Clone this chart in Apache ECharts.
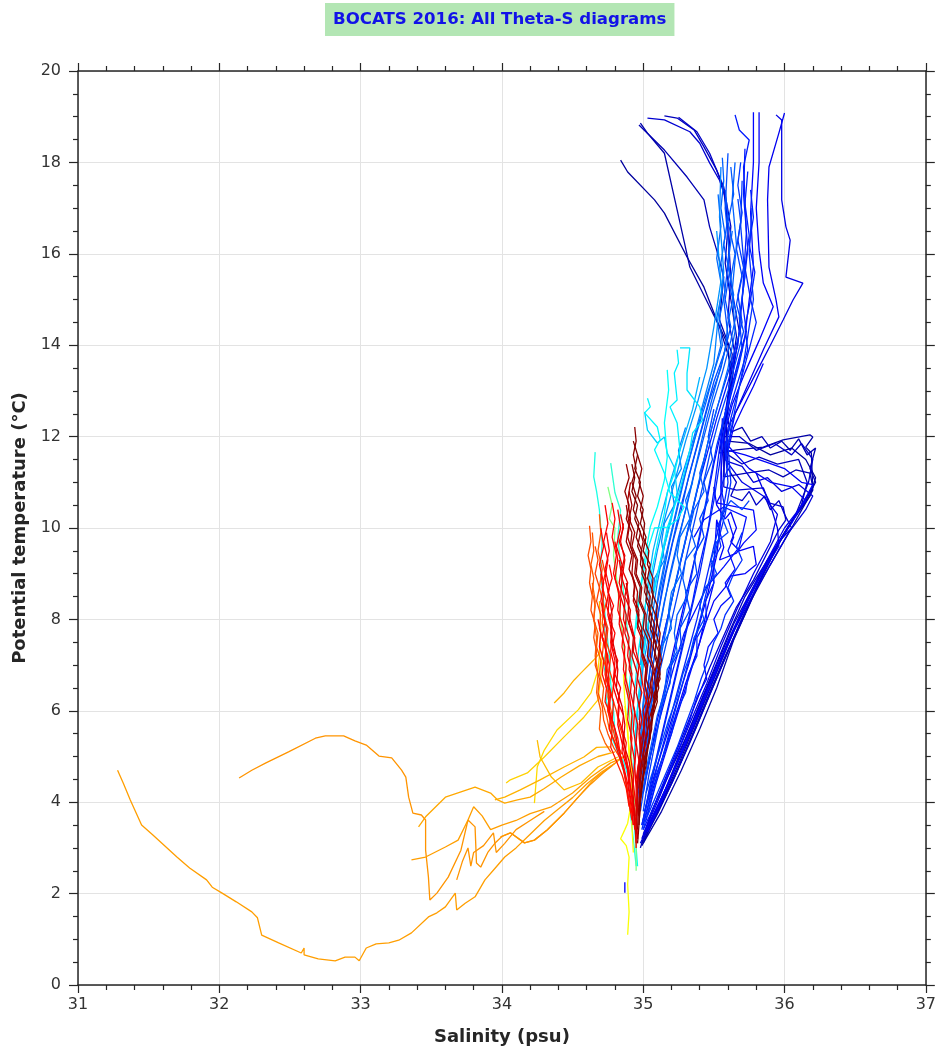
<!DOCTYPE html>
<html>
<head>
<meta charset="utf-8">
<script src="https://cdn.jsdelivr.net/npm/echarts@6/dist/echarts.min.js"></script>
<style>html,body{margin:0;padding:0;background:#fff;overflow:hidden}#c{width:939px;height:1051px}</style>
</head>
<body>
<div id="c"></div>
<script>
// ---- axis ticks ----
const salinityTicks = [31, 32, 33, 34, 35, 36, 37];
const temperatureTicks = [0, 2, 4, 6, 8, 10, 12, 14, 16, 18, 20];

// ---- profiles: [salinity, potential temperature] ----
const pN4 = [[34.84,18.05],[34.89,17.79],[35.08,17.18],[35.15,16.89],[35.31,15.93],[35.43,15.27],[35.52,14.55],[35.6,14.0],[35.62,13.2],[35.58,12.4],[35.6,11.9],[35.75,11.85],[35.9,11.6],[36.05,11.75],[36.15,11.5],[36.22,11.1],[36.18,10.7],[36.02,10.0],[35.87,9.2],[35.74,8.4],[35.62,7.6],[35.5,6.7],[35.38,5.8],[35.26,4.9],[35.13,4.0],[35.0,3.1]];
const pN1 = [[34.98,18.86],[35.03,18.64],[35.15,18.2],[35.24,16.96],[35.33,15.71],[35.47,14.84],[35.54,14.4],[35.62,13.6],[35.6,12.8],[35.57,12.2],[35.54,11.64],[35.66,11.71],[35.85,11.77],[35.99,11.93],[36.18,12.04],[36.2,11.99],[36.15,11.77],[36.19,11.64],[36.2,10.83],[36.05,10.0],[35.9,9.2],[35.76,8.4],[35.64,7.55],[35.52,6.5],[35.4,5.6],[35.27,4.7],[35.13,3.8],[34.99,3.05]];
const pN2 = [[34.97,18.82],[35.15,18.27],[35.31,17.68],[35.43,17.18],[35.47,16.59],[35.52,16.08],[35.57,15.49],[35.54,14.55],[35.63,13.8],[35.6,12.8],[35.57,11.9],[35.57,11.12],[35.73,11.2],[35.89,11.27],[35.99,11.12],[36.08,11.27],[36.18,11.2],[36.2,10.9],[36.1,10.4],[35.95,9.6],[35.82,8.8],[35.7,8.0],[35.58,7.2],[35.47,6.4],[35.35,5.5],[35.23,4.6],[35.11,3.8],[34.99,3.1]];
const pN7 = [[35.58,12.6],[35.62,12.1],[35.7,12.2],[35.76,11.9],[35.84,12.0],[35.9,11.75],[35.98,11.9],[36.04,11.7],[36.1,11.95],[36.16,11.6],[36.22,11.75],[36.18,11.3],[36.22,11.0],[36.15,10.6],[36.0,9.9],[35.88,9.3],[35.76,8.6],[35.64,7.9],[35.52,7.0],[35.41,6.2],[35.3,5.4],[35.18,4.6],[35.06,3.8],[34.98,3.0]];
const pN5 = [[35.15,19.02],[35.24,18.97],[35.36,18.71],[35.43,18.34],[35.52,17.83],[35.57,17.4],[35.6,16.6],[35.58,15.8],[35.62,15.0],[35.66,14.2],[35.62,13.3],[35.58,12.5],[35.6,11.6],[35.7,11.4],[35.82,11.55],[35.95,11.4],[36.1,11.5],[36.16,11.0],[36.12,10.5],[35.98,9.8],[35.85,9.0],[35.72,8.1],[35.6,7.3],[35.49,6.5],[35.37,5.6],[35.24,4.7],[35.12,3.9],[35.0,3.2]];
const pN6 = [[35.25,18.99],[35.38,18.67],[35.47,18.2],[35.57,17.46],[35.62,16.6],[35.6,15.8],[35.64,15.0],[35.68,14.3],[35.64,13.5],[35.6,12.6],[35.57,12.0],[35.68,12.0],[35.8,11.7],[35.93,11.85],[36.05,11.6],[36.12,11.85],[36.2,11.5],[36.17,11.0],[36.08,10.3],[35.93,9.5],[35.8,8.7],[35.68,7.9],[35.56,7.0],[35.45,6.2],[35.33,5.3],[35.2,4.4],[35.07,3.6]];
const pN8 = [[35.6,11.3],[35.66,11.0],[35.62,10.7],[35.7,10.6],[35.75,10.8],[35.8,10.5],[35.86,10.7],[35.9,10.4],[35.96,10.6],[36.0,10.3],[36.05,10.0],[35.96,9.7],[35.9,9.4],[35.82,9.0],[35.72,8.5],[35.62,7.8],[35.5,6.9],[35.38,6.0],[35.25,5.0],[35.12,4.0],[35.0,3.2]];
const pN3 = [[35.03,18.97],[35.15,18.93],[35.33,18.67],[35.4,18.42],[35.47,17.99],[35.54,17.61],[35.58,17.24],[35.6,16.5],[35.62,15.5],[35.6,14.6],[35.65,13.8],[35.62,13.0],[35.58,12.2],[35.57,10.9],[35.66,10.83],[35.85,10.88],[35.89,10.55],[35.99,10.46],[36.01,10.18],[35.96,9.96],[35.78,8.86],[35.66,8.27],[35.47,6.94],[35.35,6.0],[35.22,5.0],[35.1,4.1],[34.99,3.2]];
const pM10 = [[35.58,11.9],[35.6,11.45],[35.7,11.35],[35.78,11.0],[35.88,11.1],[35.98,10.8],[36.1,10.95],[36.2,10.7],[36.15,10.4],[36.03,9.9],[35.9,9.2],[35.77,8.5],[35.65,7.8],[35.54,7.0],[35.43,6.2],[35.32,5.4],[35.19,4.5],[35.07,3.7],[34.98,3.1]];
const pR1 = [[35.94,19.04],[35.98,18.93],[35.98,17.18],[36.01,16.59],[36.04,16.3],[36.01,15.49],[36.13,15.36],[36.06,14.99],[35.99,14.55],[35.9,14.0],[35.8,13.4],[35.7,12.8],[35.6,12.2],[35.58,11.5],[35.7,11.0],[35.85,10.7],[35.95,10.3],[35.9,9.7],[35.78,9.0],[35.66,8.2],[35.55,7.4],[35.45,6.6],[35.34,5.8],[35.22,4.9],[35.1,4.0],[35.0,3.3]];
const pM11 = [[35.8,11.2],[35.84,10.9],[35.89,10.6],[35.92,10.3],[35.95,10.0],[35.96,9.6],[35.9,9.3],[35.82,8.9],[35.74,8.4],[35.66,7.9],[35.56,7.2],[35.46,6.5],[35.36,5.7],[35.25,4.9],[35.13,4.1],[35.02,3.4]];
const pR2 = [[36.0,19.08],[35.96,18.64],[35.89,17.9],[35.88,17.18],[35.89,15.71],[35.94,14.99],[35.96,14.62],[35.85,13.9],[35.75,13.2],[35.65,12.5],[35.6,11.8],[35.75,11.3],[35.9,11.0],[36.05,10.9],[36.15,10.6],[36.0,10.0],[35.86,9.2],[35.73,8.4],[35.61,7.6],[35.5,6.8],[35.39,6.0],[35.27,5.1],[35.15,4.2],[35.02,3.4]];
const pR3 = [[35.82,19.1],[35.82,18.0],[35.8,17.0],[35.82,16.08],[35.85,15.36],[35.92,14.84],[35.82,14.1],[35.72,13.4],[35.63,12.7],[35.57,12.0],[35.55,11.2],[35.55,10.2],[35.52,9.4],[35.46,8.6],[35.39,7.8],[35.32,7.0],[35.24,6.2],[35.16,5.4],[35.08,4.6],[35.01,3.8]];
const pM9 = [[35.85,13.6],[35.78,13.1],[35.7,12.6],[35.64,12.2],[35.6,11.7],[35.72,11.6],[35.86,11.45],[36.0,11.3],[36.12,11.0],[36.2,10.95],[36.14,10.6],[36.05,10.1],[35.94,9.6],[35.84,9.0],[35.72,8.3],[35.6,7.5],[35.49,6.7],[35.38,5.9],[35.26,5.0],[35.14,4.1],[35.03,3.35]];
const pB11 = [[35.5,10.9],[35.52,10.5],[35.58,10.2],[35.62,10.35],[35.66,10.0],[35.62,9.7],[35.68,9.5],[35.78,9.6],[35.8,9.2],[35.72,9.0],[35.62,8.95],[35.58,8.7],[35.5,8.4],[35.44,7.9],[35.38,7.3],[35.3,6.6],[35.22,5.8],[35.14,5.0],[35.06,4.2],[35.0,3.5]];
const pFrag = [[34.87,2.02],[34.87,2.25]];
const pR4 = [[35.78,19.1],[35.78,18.0],[35.76,16.9],[35.78,15.71],[35.75,14.99],[35.72,14.2],[35.66,13.5],[35.6,12.8],[35.55,12.1],[35.5,11.4],[35.45,10.6],[35.4,9.8],[35.34,9.0],[35.28,8.2],[35.22,7.4],[35.16,6.6],[35.1,5.8],[35.05,5.0],[35.0,4.2]];
const pB9 = [[35.56,12.4],[35.55,11.5],[35.56,10.8],[35.52,10.55],[35.66,10.46],[35.78,10.39],[35.8,9.96],[35.71,9.67],[35.66,9.45],[35.54,9.3],[35.57,9.58],[35.52,10.18],[35.5,9.2],[35.5,8.8],[35.45,8.2],[35.4,7.5],[35.33,6.8],[35.25,6.0],[35.17,5.2],[35.09,4.4],[35.02,3.6]];
const pB10 = [[35.36,9.8],[35.43,10.18],[35.57,10.46],[35.73,10.24],[35.68,9.58],[35.57,9.15],[35.45,8.71],[35.38,8.27],[35.29,7.7],[35.22,7.0],[35.15,6.2],[35.08,5.4],[35.02,4.6]];
const pM4 = [[35.6,10.2],[35.64,9.8],[35.6,9.5],[35.65,9.1],[35.58,8.8],[35.62,8.5],[35.55,8.3],[35.5,8.0],[35.53,7.7],[35.46,7.4],[35.43,7.0],[35.45,6.7],[35.38,6.3],[35.33,5.8],[35.27,5.3],[35.2,4.8],[35.13,4.3],[35.06,3.8],[35.0,3.4]];
const pB5 = [[35.72,18.3],[35.71,17.3],[35.74,16.1],[35.7,15.0],[35.73,14.3],[35.68,13.6],[35.62,12.9],[35.56,12.2],[35.53,11.5],[35.5,10.8],[35.46,10.0],[35.4,9.2],[35.35,8.4],[35.29,7.6],[35.23,6.8],[35.17,6.0],[35.11,5.2],[35.05,4.4],[35.0,3.6]];
const pR5 = [[35.65,19.04],[35.68,18.71],[35.75,18.49],[35.71,17.9],[35.73,16.46],[35.7,14.99],[35.67,14.0],[35.6,13.2],[35.52,12.4],[35.45,11.6],[35.38,10.8],[35.32,10.0],[35.26,9.2],[35.2,8.4],[35.14,7.6],[35.09,6.8],[35.05,6.0],[35.02,5.2],[34.99,4.4]];
const pT9 = [[35.76,17.4],[35.78,16.8],[35.75,16.2],[35.79,15.6],[35.76,15.0],[35.8,14.5],[35.74,13.8],[35.68,13.1],[35.62,12.4],[35.58,11.7],[35.6,11.0],[35.56,10.3],[35.5,9.6],[35.44,8.8],[35.38,8.0],[35.31,7.2],[35.24,6.4],[35.17,5.6],[35.1,4.8],[35.04,4.0],[34.99,3.4]];
const pM1 = [[35.62,12.3],[35.58,11.8],[35.6,11.3],[35.55,10.9],[35.58,10.4],[35.52,10.0],[35.55,9.6],[35.48,9.2],[35.5,8.8],[35.44,8.4],[35.45,8.0],[35.38,7.6],[35.38,7.2],[35.32,6.8],[35.3,6.4],[35.24,6.0],[35.2,5.5],[35.14,5.0],[35.08,4.5],[35.03,4.0],[34.99,3.5]];
const pT5 = [[35.74,17.8],[35.72,17.1],[35.75,16.4],[35.72,15.7],[35.76,15.0],[35.72,14.4],[35.74,13.9],[35.68,13.3],[35.62,12.7],[35.57,12.1],[35.54,11.4],[35.5,10.6],[35.45,9.8],[35.4,9.0],[35.34,8.2],[35.28,7.4],[35.22,6.6],[35.16,5.8],[35.1,5.0],[35.04,4.2],[34.99,3.5]];
const pB8 = [[35.77,17.0],[35.75,16.0],[35.78,15.0],[35.74,14.2],[35.7,13.4],[35.65,12.6],[35.6,11.8],[35.62,11.0],[35.58,10.3],[35.52,9.6],[35.47,8.9],[35.41,8.1],[35.34,7.3],[35.27,6.5],[35.2,5.7],[35.13,4.9],[35.06,4.1],[35.0,3.4]];
const pM5 = [[35.7,9.9],[35.66,9.6],[35.7,9.3],[35.64,9.0],[35.6,8.7],[35.64,8.4],[35.58,8.1],[35.55,7.8],[35.5,7.5],[35.46,7.1],[35.41,6.7],[35.36,6.2],[35.3,5.7],[35.24,5.2],[35.17,4.7],[35.1,4.2],[35.03,3.7]];
const pB4 = [[35.7,17.6],[35.69,16.6],[35.72,15.5],[35.68,14.6],[35.7,13.9],[35.64,13.2],[35.58,12.5],[35.52,11.8],[35.47,11.0],[35.42,10.2],[35.37,9.4],[35.32,8.6],[35.26,7.8],[35.2,7.0],[35.14,6.2],[35.09,5.4],[35.04,4.6],[35.0,3.8]];
const pT8 = [[35.69,18.0],[35.67,17.5],[35.7,16.9],[35.67,16.3],[35.71,15.7],[35.67,15.1],[35.7,14.5],[35.65,13.9],[35.59,13.3],[35.52,12.6],[35.46,11.9],[35.41,11.2],[35.35,10.4],[35.29,9.6],[35.23,8.8],[35.17,8.0],[35.11,7.2],[35.06,6.4],[35.02,5.6],[34.99,4.8]];
const pM2 = [[35.5,12.6],[35.46,12.0],[35.49,11.5],[35.43,11.0],[35.46,10.6],[35.4,10.2],[35.43,9.8],[35.36,9.4],[35.38,9.0],[35.3,8.6],[35.33,8.2],[35.26,7.8],[35.27,7.4],[35.2,7.0],[35.19,6.6],[35.13,6.1],[35.1,5.6],[35.05,5.0],[35.01,4.4],[34.98,3.8]];
const pM7 = [[35.75,10.6],[35.7,10.4],[35.62,10.6],[35.55,10.3],[35.6,9.9],[35.52,9.7],[35.48,9.3],[35.52,9.0],[35.44,8.7],[35.4,8.3],[35.43,8.0],[35.36,7.6],[35.33,7.2],[35.28,6.8],[35.24,6.3],[35.18,5.8],[35.12,5.2],[35.07,4.7],[35.02,4.2]];
const pT3 = [[35.67,17.2],[35.69,16.7],[35.66,16.1],[35.7,15.5],[35.66,14.9],[35.71,14.3],[35.66,13.7],[35.6,13.0],[35.53,12.3],[35.47,11.6],[35.42,10.9],[35.36,10.1],[35.3,9.3],[35.24,8.5],[35.18,7.7],[35.12,6.9],[35.07,6.1],[35.03,5.3],[34.99,4.5]];
const pB1 = [[35.6,18.2],[35.58,17.0],[35.61,16.0],[35.57,15.0],[35.6,14.2],[35.55,13.5],[35.47,12.8],[35.4,12.0],[35.33,11.2],[35.26,10.4],[35.2,9.6],[35.14,8.8],[35.1,8.0],[35.06,7.2],[35.03,6.4],[35.0,5.6],[34.98,4.8],[34.96,4.0]];
const pT1 = [[35.58,17.4],[35.6,16.8],[35.57,16.2],[35.61,15.6],[35.58,15.0],[35.62,14.4],[35.57,13.8],[35.5,13.2],[35.44,12.5],[35.38,11.8],[35.32,11.1],[35.27,10.4],[35.21,9.7],[35.16,9.0],[35.11,8.2],[35.07,7.4],[35.03,6.5],[35.0,5.6],[34.97,4.7]];
const pM3 = [[35.44,11.6],[35.4,11.2],[35.43,10.8],[35.36,10.4],[35.33,10.0],[35.37,9.6],[35.3,9.3],[35.28,8.9],[35.31,8.5],[35.24,8.1],[35.22,7.7],[35.24,7.3],[35.17,6.9],[35.15,6.4],[35.1,5.9],[35.06,5.3],[35.02,4.7],[34.99,4.1]];
const pT2 = [[35.62,17.9],[35.64,17.3],[35.6,16.7],[35.65,16.0],[35.61,15.3],[35.66,14.7],[35.62,14.1],[35.56,13.4],[35.49,12.7],[35.43,12.0],[35.37,11.3],[35.31,10.5],[35.25,9.8],[35.19,9.0],[35.14,8.2],[35.09,7.4],[35.05,6.6],[35.02,5.8],[34.99,5.0]];
const pB3 = [[35.65,18.0],[35.63,17.2],[35.66,16.2],[35.63,15.2],[35.65,14.3],[35.6,13.5],[35.53,12.7],[35.46,11.9],[35.4,11.1],[35.34,10.3],[35.28,9.5],[35.22,8.7],[35.17,7.9],[35.12,7.1],[35.08,6.3],[35.04,5.5],[35.0,4.7],[34.97,3.9]];
const pT6 = [[35.63,16.5],[35.6,15.8],[35.64,15.1],[35.6,14.5],[35.58,13.9],[35.52,13.2],[35.45,12.4],[35.39,11.6],[35.33,10.8],[35.27,10.0],[35.21,9.2],[35.15,8.4],[35.1,7.6],[35.06,6.8],[35.02,6.0],[34.99,5.2]];
const pT7 = [[35.56,18.1],[35.57,17.6],[35.55,17.0],[35.58,16.4],[35.55,15.8],[35.58,15.2],[35.54,14.6],[35.56,14.0],[35.5,13.4],[35.44,12.7],[35.37,12.0],[35.3,11.2],[35.24,10.4],[35.18,9.6],[35.13,8.8],[35.08,8.0],[35.04,7.2],[35.01,6.4],[34.98,5.6]];
const pT4 = [[35.53,17.3],[35.55,16.6],[35.52,15.9],[35.56,15.2],[35.52,14.6],[35.55,14.0],[35.49,13.3],[35.42,12.6],[35.35,11.8],[35.28,11.0],[35.22,10.2],[35.16,9.4],[35.11,8.6],[35.07,7.8],[35.03,7.0],[35.0,6.2],[34.98,5.4]];
const pM6 = [[35.35,11.0],[35.3,10.6],[35.33,10.2],[35.26,9.8],[35.24,9.4],[35.27,9.0],[35.2,8.6],[35.18,8.2],[35.2,7.8],[35.13,7.4],[35.11,7.0],[35.08,6.5],[35.05,6.0],[35.02,5.4],[34.99,4.8]];
const pB2 = [[35.55,17.9],[35.54,16.8],[35.57,15.6],[35.53,14.6],[35.5,13.6],[35.43,12.8],[35.36,12.0],[35.28,11.2],[35.21,10.4],[35.15,9.6],[35.1,8.8],[35.06,8.0],[35.03,7.2],[35.01,6.4],[34.99,5.6],[34.97,4.8]];
const pM8 = [[35.3,12.2],[35.25,11.7],[35.27,11.3],[35.2,10.9],[35.22,10.5],[35.15,10.1],[35.13,9.7],[35.15,9.3],[35.08,8.9],[35.07,8.5],[35.04,8.0],[35.03,7.5],[35.0,7.0],[34.98,6.4],[34.97,5.8]];
const pB6 = [[35.52,16.5],[35.55,15.4],[35.5,14.4],[35.45,13.5],[35.38,12.7],[35.3,11.9],[35.23,11.1],[35.16,10.3],[35.1,9.5],[35.05,8.7],[35.02,7.9],[34.99,7.1],[34.97,6.3]];
const pB7 = [[35.4,13.3],[35.35,12.6],[35.28,11.9],[35.2,11.1],[35.13,10.3],[35.07,9.5],[35.03,8.7],[35.0,7.9],[34.98,7.0]];
const pC7 = [[35.01,12.54],[35.03,12.14],[35.1,11.86],[35.15,11.99],[35.17,11.64],[35.22,11.33],[35.24,10.77],[35.2,10.2],[35.15,9.6],[35.1,9.0],[35.06,8.4],[35.03,7.8],[35.0,7.2],[34.98,6.6],[34.96,6.0],[34.95,5.4]];
const pC1 = [[35.26,13.94],[35.33,13.94],[35.31,13.39],[35.31,13.02],[35.4,12.65],[35.42,12.36],[35.35,12.08],[35.33,11.71],[35.29,11.2],[35.26,10.83],[35.22,10.46],[35.17,10.0],[35.13,9.4],[35.09,8.8],[35.05,8.2],[35.02,7.6],[34.99,7.0],[34.97,6.4],[34.95,5.8],[34.94,5.2],[34.93,4.6],[34.93,4.0]];
const pC2 = [[35.24,13.9],[35.25,13.61],[35.22,13.39],[35.24,12.8],[35.19,12.65],[35.24,12.3],[35.26,11.71],[35.22,11.2],[35.17,10.77],[35.15,10.33],[35.11,9.8],[35.07,9.2],[35.03,8.6],[35.0,8.0],[34.97,7.4],[34.95,6.8],[34.93,6.2],[34.92,5.6],[34.91,5.0]];
const pC4 = [[35.03,12.84],[35.05,12.65],[35.01,12.52],[35.1,12.21],[35.12,11.93],[35.08,11.71],[35.15,11.2],[35.19,10.77],[35.29,10.46],[35.24,10.18],[35.17,10.02],[35.08,10.0],[35.04,9.6],[35.0,9.0],[34.97,8.4],[34.95,7.8]];
const pC3 = [[35.17,13.46],[35.18,13.02],[35.15,12.3],[35.17,11.55],[35.15,11.05],[35.1,10.46],[35.05,10.02],[35.02,9.5],[34.99,8.9],[34.96,8.3],[34.94,7.7],[34.92,7.1],[34.9,6.5],[34.89,5.9]];
const pC8 = [[34.72,7.9],[34.74,7.4],[34.72,7.0],[34.75,6.6],[34.74,6.2],[34.77,5.8],[34.78,5.4],[34.82,5.1],[34.86,4.9],[34.9,4.5],[34.93,3.8],[34.95,3.0],[34.96,2.6]];
const pC5 = [[34.66,11.66],[34.65,11.12],[34.67,10.8],[34.69,10.39],[34.7,10.0],[34.71,9.67],[34.7,9.3],[34.7,8.93],[34.72,8.4],[34.74,7.8],[34.76,7.2],[34.77,6.6],[34.79,6.0],[34.8,5.5],[34.83,5.0],[34.87,4.6],[34.9,4.0],[34.93,3.2],[34.95,2.6]];
const pC6 = [[34.77,11.42],[34.8,10.77],[34.84,10.39],[34.82,9.8],[34.84,9.2],[34.86,8.6],[34.88,8.0],[34.9,7.4],[34.92,6.8]];
const pG1 = [[34.75,10.9],[34.78,10.5],[34.76,10.2],[34.8,10.0],[34.79,9.4],[34.82,8.7],[34.84,8.0],[34.87,7.2],[34.89,6.4],[34.91,5.6],[34.92,4.8],[34.94,4.0],[34.95,3.2],[34.95,2.5]];
const pY1 = [[34.89,1.1],[34.9,1.6],[34.89,2.2],[34.9,2.8],[34.88,3.05],[34.84,3.2],[34.87,3.4],[34.89,3.54],[34.91,3.9],[34.92,4.4],[34.9,5.0],[34.89,5.6],[34.87,6.2],[34.86,6.8]];
const pY2 = [[34.93,2.9],[34.92,3.5],[34.93,4.2],[34.91,4.9],[34.89,5.5],[34.87,6.1]];
const pL8 = [[34.23,3.98],[34.25,4.77],[34.3,5.14],[34.39,5.58],[34.54,6.02],[34.63,6.39],[34.68,6.89],[34.7,7.5]];
const pL6 = [[34.03,4.42],[34.06,4.49],[34.18,4.64],[34.3,4.99],[34.44,5.43],[34.58,5.86],[34.68,6.24],[34.7,6.74],[34.71,7.3]];
const pL9 = [[34.25,5.36],[34.27,4.99],[34.35,4.55],[34.44,4.27],[34.56,4.42],[34.68,4.77],[34.82,4.99]];
const pL5 = [[33.95,4.05],[34.02,4.11],[34.13,4.27],[34.27,4.49],[34.44,4.77],[34.58,4.99],[34.67,5.2],[34.77,5.21]];
const pL7 = [[34.37,6.17],[34.44,6.39],[34.51,6.67],[34.56,6.83],[34.65,7.11],[34.69,7.26],[34.7,7.8],[34.69,8.4]];
const pL4 = [[33.41,3.46],[33.46,3.68],[33.6,4.11],[33.81,4.33],[33.92,4.2],[33.97,4.05],[34.02,3.98],[34.11,4.05],[34.2,4.11],[34.3,4.3],[34.42,4.55],[34.55,4.8],[34.68,5.0],[34.8,5.1]];
const pL1 = [[31.28,4.70],[31.32,4.42],[31.37,4.05],[31.45,3.5],[31.53,3.28],[31.7,2.8],[31.79,2.56],[31.91,2.3],[31.95,2.14],[32.02,2.01],[32.12,1.82],[32.23,1.6],[32.27,1.47],[32.3,1.09],[32.42,0.92],[32.58,0.7],[32.6,0.81],[32.6,0.66],[32.7,0.57],[32.82,0.53],[32.89,0.61],[32.96,0.61],[32.99,0.53],[33.04,0.81],[33.11,0.9],[33.2,0.92],[33.27,0.98],[33.36,1.14],[33.48,1.49],[33.54,1.58],[33.6,1.71],[33.67,2.01],[33.68,1.64],[33.74,1.79],[33.81,1.93],[33.88,2.3],[33.95,2.55],[34.02,2.8],[34.1,3.0],[34.2,3.3],[34.3,3.6],[34.4,3.85],[34.5,4.1],[34.6,4.4],[34.7,4.65],[34.8,4.85],[34.86,5.0]];
const pL10 = [[33.99,3.24],[34.06,3.33],[34.16,3.11],[34.23,3.17],[34.32,3.39],[34.44,3.76],[34.54,4.11],[34.65,4.5],[34.78,4.8]];
const pL2 = [[32.14,4.53],[32.23,4.70],[32.33,4.86],[32.49,5.10],[32.68,5.40],[32.75,5.45],[32.88,5.45],[32.96,5.34],[33.04,5.25],[33.13,5.01],[33.22,4.97],[33.29,4.7],[33.32,4.55],[33.34,4.11],[33.37,3.76],[33.43,3.72],[33.46,3.61],[33.46,3.2],[33.46,2.95],[33.48,2.36],[33.49,1.86],[33.54,2.01],[33.62,2.36],[33.71,2.95],[33.76,3.61],[33.81,3.46],[33.82,2.67],[33.85,2.58],[33.9,2.9],[33.95,3.1],[34.0,3.25],[34.06,3.33],[34.16,3.11],[34.23,3.17],[34.32,3.39],[34.44,3.76],[34.54,4.11],[34.63,4.4],[34.72,4.65],[34.82,4.9]];
const pL3 = [[33.36,2.74],[33.46,2.8],[33.6,3.02],[33.69,3.17],[33.76,3.61],[33.8,3.9],[33.86,3.7],[33.92,3.4],[34.0,3.5],[34.1,3.6],[34.2,3.75],[34.35,3.9],[34.5,4.2],[34.63,4.55],[34.77,4.86],[34.87,4.99]];
const pL11 = [[33.68,2.3],[33.72,2.7],[33.76,3.0],[33.78,2.6],[33.8,2.9],[33.87,3.05],[33.94,3.33],[33.96,2.9],[34.02,3.1],[34.1,3.4],[34.2,3.6],[34.3,3.8]];
const pOR4 = [[34.64,8.8],[34.66,8.4],[34.65,8.0],[34.67,7.6],[34.66,7.2],[34.68,6.8],[34.67,6.4],[34.7,6.0],[34.69,5.6],[34.73,5.3],[34.77,5.1]];
const pOR3 = [[34.69,10.3],[34.7,9.9],[34.68,9.5],[34.71,9.1],[34.69,8.7],[34.72,8.3],[34.71,7.9],[34.74,7.5],[34.73,7.1],[34.76,6.7],[34.75,6.3],[34.78,5.9],[34.77,5.5]];
const pOR5 = [[34.64,9.9],[34.65,9.5],[34.63,9.2],[34.65,8.9],[34.64,8.6],[34.66,8.3],[34.65,8.0],[34.68,7.7],[34.67,7.4],[34.7,7.1],[34.69,6.8],[34.72,6.5],[34.71,6.2],[34.74,5.9],[34.76,5.6],[34.8,5.3],[34.85,5.05]];
const pOR1 = [[34.62,10.05],[34.63,9.7],[34.61,9.4],[34.63,9.1],[34.62,8.8],[34.64,8.5],[34.63,8.2],[34.66,7.9],[34.65,7.6],[34.67,7.3],[34.66,7.0],[34.69,6.7],[34.68,6.4],[34.71,6.1],[34.72,5.8],[34.75,5.5],[34.79,5.2],[34.83,5.0]];
const pOR2 = [[34.66,9.6],[34.68,9.3],[34.66,9.0],[34.69,8.7],[34.67,8.4],[34.7,8.1],[34.69,7.8],[34.72,7.5],[34.71,7.2],[34.74,6.9],[34.73,6.6],[34.76,6.3],[34.75,6.0],[34.78,5.7],[34.8,5.4],[34.84,5.1]];
const pOR6 = [[34.71,9.3],[34.73,9.0],[34.71,8.7],[34.74,8.4],[34.72,8.1],[34.75,7.8],[34.74,7.5],[34.77,7.2],[34.76,6.9],[34.79,6.6],[34.78,6.3],[34.81,6.0],[34.83,5.7],[34.86,5.4],[34.88,5.0],[34.9,4.6]];
const pRD9 = [[34.72,7.6],[34.74,7.2],[34.73,6.8],[34.76,6.4],[34.75,6.0],[34.78,5.6],[34.77,5.2],[34.81,4.9],[34.85,4.6],[34.88,4.3],[34.9,3.9]];
const pRD5 = [[34.7,9.0],[34.72,8.6],[34.71,8.2],[34.74,7.8],[34.73,7.4],[34.76,7.0],[34.75,6.6],[34.79,6.2],[34.78,5.8],[34.82,5.4],[34.84,5.0],[34.87,4.6],[34.89,4.2],[34.91,3.8]];
const pRD12 = [[34.68,8.0],[34.7,7.7],[34.69,7.4],[34.72,7.1],[34.71,6.8],[34.74,6.5],[34.73,6.2],[34.77,5.9],[34.76,5.6],[34.8,5.3],[34.83,5.0],[34.86,4.7],[34.88,4.4],[34.9,4.0],[34.92,3.6]];
const pRD15 = [[34.7,10.0],[34.72,9.6],[34.69,9.2],[34.72,8.8],[34.7,8.4],[34.73,8.0],[34.71,7.6],[34.75,7.2],[34.74,6.8],[34.77,6.4],[34.76,6.0],[34.8,5.6],[34.82,5.2],[34.86,4.8],[34.89,4.4],[34.91,4.0],[34.93,3.5]];
const pRD1 = [[34.78,10.55],[34.8,10.2],[34.78,9.8],[34.81,9.4],[34.79,9.0],[34.83,8.6],[34.82,8.2],[34.86,7.8],[34.85,7.4],[34.88,7.0],[34.87,6.6],[34.9,6.2],[34.89,5.8],[34.92,5.4],[34.91,5.0],[34.93,4.6],[34.92,4.2],[34.94,3.8],[34.95,3.4],[34.95,3.0]];
const pRD10 = [[34.76,9.2],[34.78,8.9],[34.75,8.6],[34.79,8.3],[34.76,8.0],[34.8,7.7],[34.78,7.4],[34.82,7.1],[34.8,6.8],[34.84,6.5],[34.82,6.2],[34.86,5.9],[34.85,5.6],[34.88,5.3],[34.87,5.0],[34.9,4.7],[34.91,4.3],[34.93,3.9],[34.94,3.4]];
const pRD2 = [[34.74,9.9],[34.76,9.5],[34.73,9.1],[34.76,8.7],[34.74,8.3],[34.78,7.9],[34.77,7.5],[34.8,7.1],[34.79,6.7],[34.83,6.3],[34.82,5.9],[34.86,5.5],[34.85,5.1],[34.89,4.7],[34.9,4.3],[34.92,3.9],[34.93,3.5]];
const pRD14 = [[34.73,10.5],[34.75,10.1],[34.72,9.7],[34.75,9.3],[34.73,8.9],[34.76,8.5],[34.75,8.1],[34.78,7.7],[34.77,7.3],[34.8,6.9],[34.79,6.5],[34.83,6.1],[34.82,5.7],[34.85,5.3],[34.88,4.9],[34.9,4.5],[34.92,4.1],[34.93,3.7]];
const pRD7 = [[34.8,9.7],[34.82,9.3],[34.8,8.9],[34.84,8.4],[34.83,7.9],[34.87,7.4],[34.86,6.9],[34.9,6.4],[34.92,5.9],[34.91,5.4],[34.94,4.9],[34.93,4.4],[34.95,3.9]];
const pRD16 = [[34.82,10.4],[34.84,10.0],[34.81,9.6],[34.85,9.2],[34.83,8.8],[34.87,8.4],[34.86,8.0],[34.9,7.6],[34.89,7.2],[34.92,6.8],[34.91,6.4],[34.94,6.0],[34.93,5.6],[34.95,5.2],[34.94,4.8],[34.95,4.3],[34.95,3.8],[34.96,3.2]];
const pRD4 = [[34.86,10.1],[34.84,9.7],[34.87,9.3],[34.85,8.9],[34.89,8.5],[34.9,8.1],[34.93,7.7],[34.95,7.3],[34.98,6.9],[35.0,6.5],[35.03,6.1],[35.0,5.7],[35.02,5.3],[34.99,4.9],[34.98,4.4],[34.97,3.9]];
const pRD3 = [[34.83,9.3],[34.85,8.9],[34.84,8.5],[34.88,8.1],[34.87,7.7],[34.91,7.3],[34.9,6.9],[34.94,6.5],[34.93,6.1],[34.96,5.7],[34.95,5.3],[34.97,4.9],[34.95,4.5],[34.96,4.1],[34.95,3.6],[34.96,3.2]];
const pRD11 = [[34.84,10.3],[34.86,10.0],[34.83,9.7],[34.87,9.4],[34.85,9.1],[34.89,8.8],[34.87,8.5],[34.91,8.2],[34.9,7.9],[34.94,7.6],[34.93,7.3],[34.97,7.0],[34.96,6.7],[34.99,6.4],[34.97,6.1],[34.99,5.8],[34.97,5.5],[34.98,5.1],[34.96,4.7],[34.96,4.2],[34.95,3.6]];
const pRD6 = [[34.76,8.5],[34.78,8.1],[34.77,7.7],[34.8,7.3],[34.82,6.9],[34.81,6.5],[34.85,6.1],[34.87,5.7],[34.86,5.3],[34.9,4.9],[34.92,4.5],[34.93,4.1],[34.94,3.6],[34.95,3.1]];
const pRD8 = [[34.88,8.8],[34.9,8.4],[34.89,8.0],[34.93,7.6],[34.92,7.2],[34.96,6.8],[34.95,6.4],[34.98,6.0],[34.97,5.6],[34.99,5.2],[34.97,4.8],[34.96,4.3],[34.95,3.7]];
const pRD13 = [[34.92,9.0],[34.94,8.7],[34.93,8.4],[34.97,8.1],[34.96,7.8],[35.0,7.5],[34.99,7.2],[35.02,6.9],[35.01,6.6],[35.03,6.3],[35.0,6.0],[35.01,5.7],[34.98,5.3],[34.98,4.9],[34.96,4.4],[34.96,3.9],[34.95,3.3]];
const pDR6 = [[34.91,11.0],[34.89,10.6],[34.91,10.2],[34.89,9.8],[34.93,9.4],[34.92,9.0],[34.96,8.6],[34.95,8.2],[34.99,7.8],[34.98,7.4],[35.02,7.0],[35.01,6.6],[35.04,6.2],[35.01,5.8],[35.0,5.4],[34.98,5.0]];
const pDR4 = [[34.9,10.8],[34.92,10.5],[34.9,10.2],[34.94,9.9],[34.92,9.6],[34.96,9.3],[34.95,9.0],[34.99,8.7],[34.98,8.4],[35.02,8.1],[35.02,7.8],[35.06,7.5],[35.05,7.2],[35.08,6.9],[35.05,6.6],[35.06,6.3],[35.02,5.9],[35.03,5.5],[35.0,5.1],[34.98,4.7],[34.97,4.3]];
const pDR8 = [[34.88,10.5],[34.9,10.1],[34.88,9.7],[34.92,9.4],[34.9,9.1],[34.94,8.8],[34.93,8.5],[34.97,8.2],[34.96,7.9],[35.0,7.6],[34.99,7.3],[35.03,7.0],[35.02,6.7],[35.05,6.4],[35.03,6.1],[35.04,5.7],[35.01,5.3],[35.0,4.9],[34.98,4.5],[34.97,4.0],[34.96,3.4]];
const pDR2 = [[34.88,11.4],[34.9,11.1],[34.87,10.8],[34.9,10.5],[34.88,10.2],[34.92,9.9],[34.91,9.6],[34.95,9.3],[34.94,9.0],[34.98,8.7],[34.97,8.4],[35.01,8.1],[35.0,7.8],[35.04,7.5],[35.03,7.2],[35.07,6.9],[35.06,6.5],[35.08,6.2],[35.04,5.8],[35.05,5.4],[35.01,5.0],[35.0,4.6],[34.98,4.2],[34.97,3.7]];
const pDR7 = [[34.97,10.0],[35.0,9.7],[34.98,9.4],[35.02,9.1],[35.01,8.8],[35.05,8.5],[35.04,8.2],[35.08,7.9],[35.07,7.6],[35.11,7.3],[35.1,7.0],[35.12,6.7],[35.08,6.4],[35.08,6.1],[35.05,5.7],[35.04,5.3],[35.01,4.9],[35.0,4.5],[34.98,4.0],[34.97,3.5]];
const pDR1 = [[34.94,12.21],[34.95,11.9],[34.93,11.6],[34.95,11.3],[34.92,11.0],[34.95,10.7],[34.93,10.4],[34.97,10.1],[34.95,9.8],[34.99,9.5],[34.98,9.2],[35.02,8.9],[35.01,8.6],[35.05,8.3],[35.04,8.0],[35.08,7.7],[35.07,7.4],[35.1,7.1],[35.08,6.8],[35.09,6.4],[35.06,6.0],[35.06,5.6],[35.03,5.2],[35.02,4.8],[34.99,4.4],[34.98,4.0],[34.97,3.5],[34.96,3.1]];
const pDR5 = [[34.96,11.6],[34.99,11.3],[34.97,11.0],[35.0,10.7],[34.98,10.4],[35.01,10.1],[35.0,9.8],[35.04,9.5],[35.03,9.2],[35.07,8.9],[35.06,8.6],[35.1,8.3],[35.09,8.0],[35.12,7.7],[35.11,7.4],[35.13,7.1],[35.1,6.8],[35.11,6.5],[35.08,6.2],[35.06,5.8]];
const pDR9 = [[34.92,11.4],[34.94,11.1],[34.92,10.8],[34.96,10.5],[34.94,10.2],[34.98,9.9],[34.96,9.6],[35.0,9.3],[34.99,9.0],[35.03,8.7],[35.02,8.4],[35.06,8.1],[35.05,7.8],[35.09,7.5],[35.08,7.2],[35.11,6.9],[35.09,6.6],[35.1,6.3],[35.06,6.0]];
const pDR3 = [[34.93,11.9],[34.96,11.6],[34.94,11.3],[34.98,11.0],[34.96,10.7],[35.0,10.4],[34.98,10.1],[35.02,9.8],[35.0,9.5],[35.05,9.2],[35.03,8.9],[35.07,8.6],[35.06,8.3],[35.1,8.0],[35.09,7.7],[35.12,7.4],[35.11,7.1],[35.12,6.8],[35.09,6.5],[35.1,6.2],[35.07,5.9],[35.05,5.5],[35.03,5.1],[35.0,4.6],[34.98,4.1]];

// drawing order (station order) and each profile's level on the jet colour scale
const profiles = [pN4,pN1,pN2,pN7,pN5,pN6,pN8,pN3,pM10,pR1,pM11,pR2,pR3,pM9,pB11,pFrag,pR4,pB9,pB10,pM4,pB5,pR5,pT9,pM1,pT5,pB8,pM5,pB4,pT8,pM2,pM7,pT3,pB1,pT1,pM3,pT2,pB3,pT6,pT7,pT4,pM6,pB2,pM8,pB6,pB7,pC7,pC1,pC2,pC4,pC3,pC8,pC5,pC6,pG1,pY1,pY2,pL8,pL6,pL9,pL5,pL7,pL4,pL1,pL10,pL2,pL3,pL11,pOR4,pOR3,pOR5,pOR1,pOR2,pOR6,pRD9,pRD5,pRD12,pRD15,pRD1,pRD10,pRD2,pRD14,pRD7,pRD16,pRD4,pRD3,pRD11,pRD6,pRD8,pRD13,pDR6,pDR4,pDR8,pDR2,pDR7,pDR1,pDR5,pDR9,pDR3];
const colorLevels = [0.03,0.04,0.05,0.05,0.06,0.07,0.07,0.08,0.09,0.10,0.10,0.11,0.12,0.12,0.12,0.12,0.13,0.13,0.14,0.14,0.15,0.15,0.16,0.16,0.16,0.17,0.17,0.18,0.18,0.19,0.19,0.19,0.20,0.20,0.21,0.21,0.22,0.22,0.22,0.23,0.23,0.25,0.26,0.27,0.30,0.33,0.35,0.36,0.37,0.38,0.38,0.40,0.42,0.50,0.62,0.63,0.66,0.67,0.69,0.70,0.70,0.71,0.72,0.72,0.73,0.72,0.73,0.78,0.79,0.79,0.80,0.81,0.82,0.85,0.86,0.86,0.87,0.87,0.87,0.88,0.88,0.88,0.89,0.89,0.90,0.90,0.91,0.92,0.93,0.96,0.97,0.97,0.98,0.98,0.99,0.99,1.0,1.0];

function jet(t) {
  const c = v => Math.round(255 * Math.max(0, Math.min(1, v)));
  const r = c(1.5 - Math.abs(4 * t - 3));
  const g = c(1.5 - Math.abs(4 * t - 2));
  const b = c(1.5 - Math.abs(4 * t - 1));
  return 'rgb(' + r + ',' + g + ',' + b + ')';
}

const axisColor = '#262626';
const font = 'DejaVu Sans';

const series = profiles.map((p, i) => ({
  type: 'line',
  data: p,
  showSymbol: false,
  symbol: 'none',
  silent: true,
  lineStyle: { width: 1.3, color: jet(colorLevels[i]) },
  itemStyle: { color: jet(colorLevels[i]) }
}));

function xAx(pos, main) {
  return {
    type: 'value', position: pos, min: salinityTicks[0], max: salinityTicks[salinityTicks.length - 1], interval: 1,
    axisLine: { show: true, onZero: false, lineStyle: { color: axisColor, width: 1.5 } },
    axisTick: { show: true, length: 8, lineStyle: { color: axisColor, width: 1.2 } },
    minorTick: { show: true, splitNumber: 5, length: 5, lineStyle: { color: axisColor, width: 1.2 } },
    axisLabel: { show: main, color: '#333', fontSize: 16, fontFamily: font, margin: 12 },
    splitLine: { show: main, lineStyle: { color: '#e3e3e3', width: 1 } },
    name: main ? 'Salinity (psu)' : '', nameLocation: 'middle', nameGap: 43,
    nameTextStyle: { fontWeight: 'bold', fontSize: 18, color: axisColor, fontFamily: font }
  };
}
function yAx(pos, main) {
  return {
    type: 'value', position: pos, min: temperatureTicks[0], max: temperatureTicks[temperatureTicks.length - 1], interval: 2,
    axisLine: { show: true, onZero: false, lineStyle: { color: axisColor, width: 1.5 } },
    axisTick: { show: true, length: 9, lineStyle: { color: axisColor, width: 1.2 } },
    minorTick: { show: true, splitNumber: 4, length: 5, lineStyle: { color: axisColor, width: 1.2 } },
    axisLabel: { show: main, color: '#333', fontSize: 16, fontFamily: font, margin: 17 },
    splitLine: { show: main, lineStyle: { color: '#e3e3e3', width: 1 } },
    name: main ? 'Potential temperature (°C)' : '', nameLocation: 'middle', nameGap: 45,
    nameTextStyle: { fontWeight: 'bold', fontSize: 18, color: axisColor, fontFamily: font }
  };
}

const chart = echarts.init(document.getElementById('c'), null, { renderer: 'canvas' });
chart.setOption({
  animation: false,
  backgroundColor: '#ffffff',
  title: {
    text: 'BOCATS 2016: All Theta-S diagrams',
    left: 325, top: 3,
    backgroundColor: '#b3e6b4',
    padding: [8, 8],
    textStyle: { color: '#1212e8', fontSize: 16.6, fontWeight: 'bold', fontFamily: font, lineHeight: 17 }
  },
  grid: { left: 78, right: 13, top: 71, bottom: 66, containLabel: false },
  xAxis: [xAx('bottom', true), xAx('top', false)],
  yAxis: [yAx('left', true), yAx('right', false)],
  series: series
});
</script>
</body>
</html>
